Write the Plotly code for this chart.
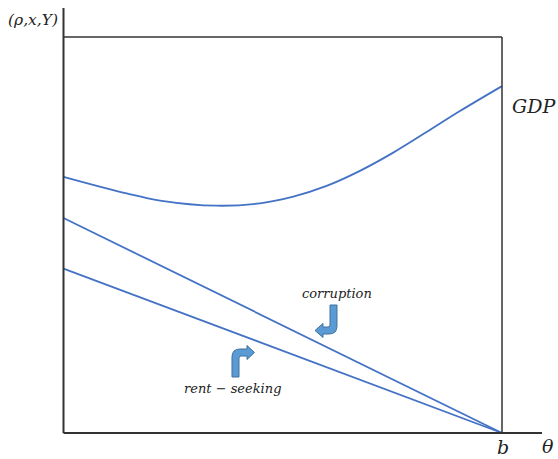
import plotly.graph_objects as go

# Share of the economy theta, running from 0 to b (= 1)
theta_gdp = [0.0, 0.144, 0.220, 0.349, 0.448, 0.524, 0.600, 0.676, 0.752, 0.828, 0.904, 1.0]
gdp = [6.47, 6.05, 5.87, 5.74, 5.80, 5.97, 6.24, 6.62, 7.08, 7.60, 8.13, 8.76]

theta_lines = [0.0, 1.0]
corruption = [5.43, 0.0]
rent_seeking = [4.15, 0.0]

W, H = 558, 459
X0_PX, XB_PX = 63.5, 502.0      # pixel position of theta = 0 and theta = b
Y0_PX, PX_PER_UNIT = 433.0, 39.6

x_range = [-X0_PX / (XB_PX - X0_PX), (W - X0_PX) / (XB_PX - X0_PX)]
y_range = [-(H - Y0_PX) / PX_PER_UNIT, Y0_PX / PX_PER_UNIT]

LINE_BLUE = "#4472C4"
AXIS = "#333333"
ARROW_FILL = "#5B9BD5"
ARROW_EDGE = "#41719C"
FONT = "DejaVu Serif"

fig = go.Figure()
for xs, ys in [(theta_gdp, gdp), (theta_lines, corruption), (theta_lines, rent_seeking)]:
    fig.add_trace(go.Scatter(
        x=xs, y=ys, mode="lines",
        line=dict(color=LINE_BLUE, width=1.8, shape="spline", smoothing=1.0),
        hoverinfo="skip", showlegend=False,
    ))

top_y = (Y0_PX - 37) / PX_PER_UNIT
shapes = [
    # vertical axis and horizontal axis
    dict(type="line", x0=0, x1=0, y0=0, y1=(Y0_PX - 8) / PX_PER_UNIT,
         line=dict(color=AXIS, width=2)),
    dict(type="line", x0=0, x1=(542 - X0_PX) / (XB_PX - X0_PX), y0=0, y1=0,
         line=dict(color=AXIS, width=2)),
    # upper frame and vertical line at b
    dict(type="line", x0=0, x1=1, y0=top_y, y1=top_y,
         line=dict(color=AXIS, width=1.5)),
    dict(type="line", x0=1, x1=1, y0=0, y1=top_y,
         line=dict(color=AXIS, width=1.5)),
]


def px_path(points_cmds):
    """Build an SVG path in paper coordinates from pixel-space commands."""
    out = []
    for cmd in points_cmds:
        op, pts = cmd[0], cmd[1:]
        coords = " ".join(f"{px / W:.5f},{1 - py / H:.5f}" for px, py in pts)
        out.append(f"{op} {coords}" if pts else op)
    return " ".join(out)


# Bent block arrow next to the corruption line (down, then pointing left)
corruption_arrow = px_path([
    ("M", (330, 305)), ("L", (337, 305)), ("L", (337, 326)),
    ("Q", (337, 334), (329, 334)), ("L", (323, 334)), ("L", (323, 337.5)),
    ("L", (315, 330.5)), ("L", (323, 323.5)), ("L", (323, 327)),
    ("L", (328, 327)), ("Q", (330, 327), (330, 325)), ("Z",),
])
# Bent block arrow next to the rent-seeking line (up, then pointing right)
rent_arrow = px_path([
    ("M", (232, 377)), ("L", (232, 357)), ("Q", (232, 349), (240, 349)),
    ("L", (247, 349)), ("L", (247, 345.5)), ("L", (254.5, 352.5)),
    ("L", (247, 359.5)), ("L", (247, 356)), ("L", (241, 356)),
    ("Q", (239, 356), (239, 358)), ("L", (239, 377)), ("Z",),
])
for p in (corruption_arrow, rent_arrow):
    shapes.append(dict(type="path", path=p, xref="paper", yref="paper",
                       fillcolor=ARROW_FILL, line=dict(color=ARROW_EDGE, width=1)))


def to_x(px):
    return (px - X0_PX) / (XB_PX - X0_PX)


def to_y(py):
    return (Y0_PX - py) / PX_PER_UNIT


labels = [
    ("(ρ,x,Y)", 33, 20, 15.5),
    ("GDP", 534, 106, 19),
    ("corruption", 337, 293, 13),
    ("rent − seeking", 232, 388, 13),
    ("b", 503, 447, 19),
    ("θ", 548, 446, 19),
]
annotations = [
    dict(x=to_x(px), y=to_y(py), text=txt, showarrow=False,
         xanchor="center", yanchor="middle",
         font=dict(family=FONT, size=sz, color="#222222", style="italic"))
    for txt, px, py, sz in labels
]

fig.update_layout(
    width=W, height=H,
    margin=dict(l=0, r=0, t=0, b=0),
    paper_bgcolor="white", plot_bgcolor="white",
    xaxis=dict(range=x_range, visible=False, fixedrange=True),
    yaxis=dict(range=y_range, visible=False, fixedrange=True),
    shapes=shapes, annotations=annotations,
)

fig.write_html("out.html")
